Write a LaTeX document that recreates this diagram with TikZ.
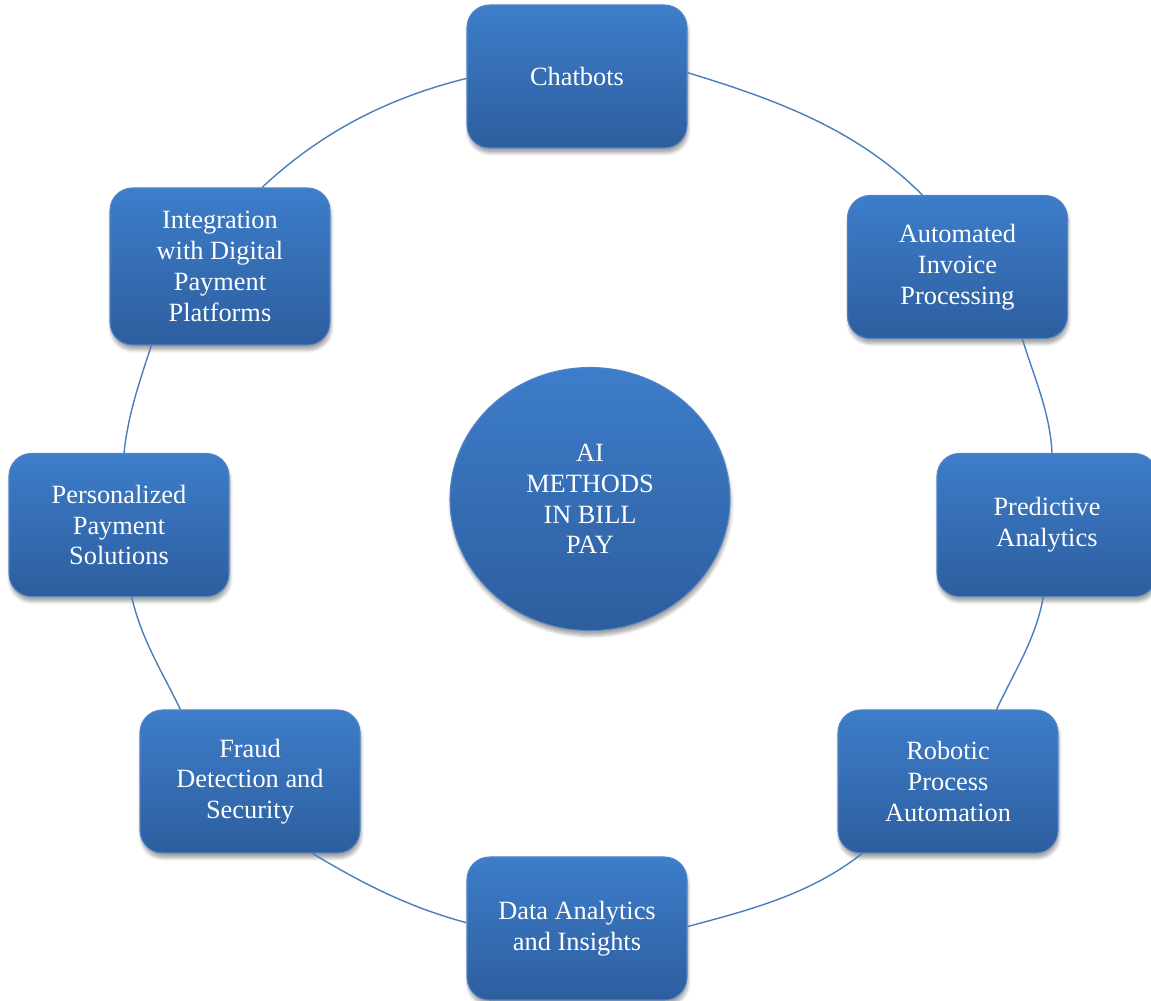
\documentclass[tikz,border=0pt]{standalone}
\usepackage{fontspec}
\setmainfont{Liberation Serif}
\usepackage{xcolor}
\usepackage{tikz}
\usetikzlibrary{shapes.geometric, shadows.blur}

\definecolor{boxtop}{RGB}{61,125,202}
\definecolor{boxbot}{RGB}{45,94,158}
\definecolor{boxline}{RGB}{84,132,196}
\definecolor{ringline}{RGB}{74,126,187}

\begin{document}
\begin{tikzpicture}[
    box/.style={rectangle, draw=boxline, line width=0.6pt, top color=boxtop, bottom color=boxbot, text=white, align=center, rounded corners=0.45cm, minimum width=4.4cm, minimum height=2.86cm, font=\fontsize{15}{17.5}\selectfont, blur shadow={shadow xshift=0.2mm, shadow yshift=-1mm, shadow blur steps=6, shadow opacity=35}},
    hub/.style={ellipse, draw=boxline, line width=0.6pt, top color=boxtop, bottom color=boxbot, text=white, align=center, minimum width=5.6cm, minimum height=5.26cm, font=\fontsize{15}{17.5}\selectfont, blur shadow={shadow xshift=0.2mm, shadow yshift=-1mm, shadow blur steps=6, shadow opacity=35}},
    ring/.style={draw=ringline, line width=0.8pt, looseness=0.9}
]
\useasboundingbox (0,0) rectangle (23.02,20.02);

% Positions
\coordinate (c1) at (11.54,18.49);
\coordinate (c2) at (19.15,14.68);
\coordinate (c3) at (20.94,9.52);
\coordinate (c4) at (18.96,4.39);
\coordinate (c5) at (11.54,1.45);
\coordinate (c6) at (5.00,4.39);
\coordinate (c7) at (2.38,9.52);
\coordinate (c8) at (4.40,14.69);

% Center
\node[hub] (hub) at (11.80,10.04) {AI\\METHODS\\IN BILL\\PAY};

% Outer boxes
\node[box] (chat) at (c1) {Chatbots};
\node[box] (invoice) at (c2) {Automated\\Invoice\\Processing};
\node[box] (predict) at (c3) {Predictive\\Analytics};
\node[box] (rpa) at (c4) {Robotic\\Process\\Automation};
\node[box] (data) at (c5) {Data Analytics\\and Insights};
\node[box] (fraud) at (c6) {Fraud\\Detection and\\Security};
\node[box] (personal) at (c7) {Personalized\\Payment\\Solutions};
\node[box, minimum height=3.14cm] (digital) at (c8) {Integration\\with Digital\\Payment\\Platforms};

% Ring
\draw[ring] (chat.2) to[out=-17, in=135] (invoice.116);
\draw[ring] (invoice.-48) to[out=-73, in=93] (predict.86);
\draw[ring] (predict.267) to[out=-100, in=65] (rpa.56);
\draw[ring] (rpa.220) to[out=-142, in=15] (data.1);
\draw[ring] (data.177) to[out=165, in=-31] (fraud.311);
\draw[ring] (fraud.134) to[out=116, in=-77] (personal.280);
\draw[ring] (personal.86) to[out=84, in=-108] (digital.229);
\draw[ring] (digital.62) to[out=43, in=-166] (chat.181);

\end{tikzpicture}
\end{document}
